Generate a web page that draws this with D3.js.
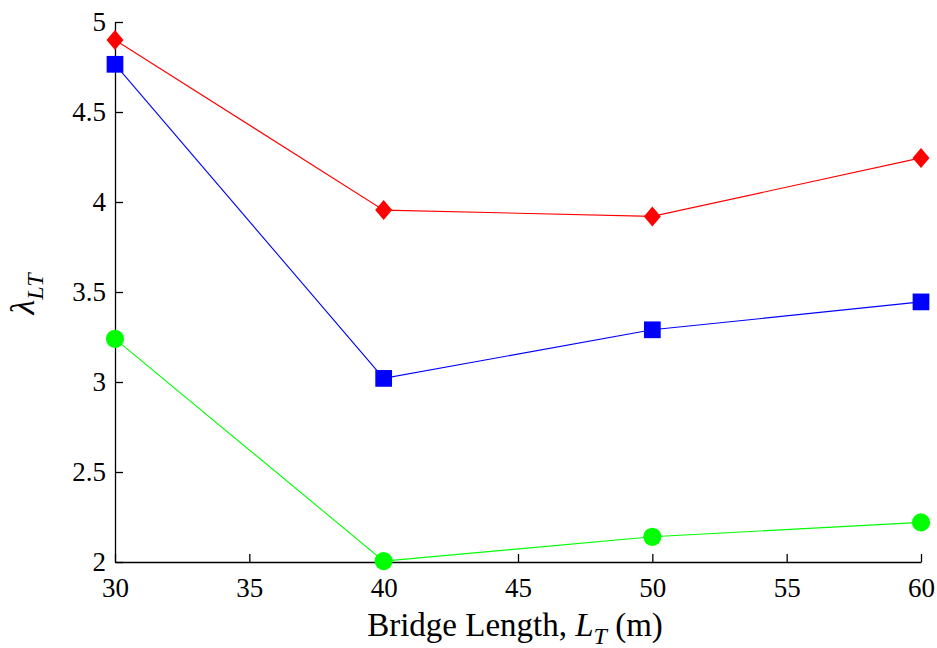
<!DOCTYPE html>
<html><head><meta charset="utf-8">
<script src="https://cdn.jsdelivr.net/npm/d3@7/dist/d3.min.js"></script>
<style>body{margin:0;background:#fff} svg text{font-family:"Liberation Serif","DejaVu Serif",serif;}</style>
</head><body>
<svg id="c" width="937" height="648"></svg>
<script>
const lengths = [30, 40, 50, 60];
const redSeries = [4.90, 3.955, 3.92, 4.245];
const blueSeries = [4.765, 3.02, 3.29, 3.445];
const greenSeries = [3.24, 2.005, 2.14, 2.22];
const xTicks = [30, 35, 40, 45, 50, 55, 60];
const yTicks = [2, 2.5, 3, 3.5, 4, 4.5, 5];

const svg = d3.select("#c");
const x = d3.scaleLinear().domain([30, 60]).range([115, 921]);
const y = d3.scaleLinear().domain([2, 5]).range([562, 22]);

const xAxis = svg.append("g").attr("transform", "translate(0,562)")
  .call(d3.axisBottom(x).tickValues(xTicks).tickSizeInner(-8).tickSizeOuter(0).tickPadding(16));
const yAxis = svg.append("g").attr("transform", "translate(115,0)")
  .call(d3.axisLeft(y).tickValues(yTicks).tickFormat(d3.format("")).tickSizeInner(-8).tickSizeOuter(0).tickPadding(9));
[xAxis, yAxis].forEach(a => {
  a.attr("font-family", null);
  a.selectAll("path").attr("stroke", "#000").attr("stroke-width", 1.3);
  a.selectAll("line").attr("stroke", "#000").attr("stroke-width", 1.3);
  a.selectAll("text").attr("font-size", 27).attr("fill", "#000");
});

const diamond = { draw(ctx, size) { const w = 8.5, h = 10; ctx.moveTo(0, -h); ctx.lineTo(w, 0); ctx.lineTo(0, h); ctx.lineTo(-w, 0); ctx.closePath(); } };
const series = [
  {vals: redSeries, color: "#ff0000", shape: diamond, size: 1},
  {vals: blueSeries, color: "#0000ff", shape: d3.symbolSquare, size: 280},
  {vals: greenSeries, color: "#00ff00", shape: d3.symbolCircle, size: 260}
];
const line = d3.line().x((d, i) => x(lengths[i])).y(d => y(d));
series.forEach(s => {
  svg.append("path").datum(s.vals).attr("d", line)
    .attr("fill", "none").attr("stroke", s.color).attr("stroke-width", 1.1);
  const sym = d3.symbol().type(s.shape).size(s.size);
  svg.append("g").selectAll("path").data(s.vals).join("path")
    .attr("d", sym())
    .attr("transform", (d, i) => `translate(${x(lengths[i])},${y(d)})`)
    .attr("fill", s.color);
});

// x label
const xl = svg.append("text").attr("x", 515).attr("y", 636).attr("text-anchor", "middle")
  .attr("font-size", 33).attr("fill", "#000");
xl.append("tspan").text("Bridge Length, ");
xl.append("tspan").attr("font-style", "italic").text("L");
xl.append("tspan").attr("font-style", "italic").attr("font-size", 24).attr("dy", 8).text("T");
xl.append("tspan").attr("dy", -8).text(" (m)");

// y label
const yl = svg.append("text").attr("transform", "translate(34,294) rotate(-90)").attr("text-anchor", "middle")
  .attr("font-size", 34).attr("fill", "#000");
yl.append("tspan").attr("font-style", "italic").text("λ");
yl.append("tspan").attr("font-style", "italic").attr("font-size", 24).attr("dy", 9).text("LT");
</script>
</body></html>
